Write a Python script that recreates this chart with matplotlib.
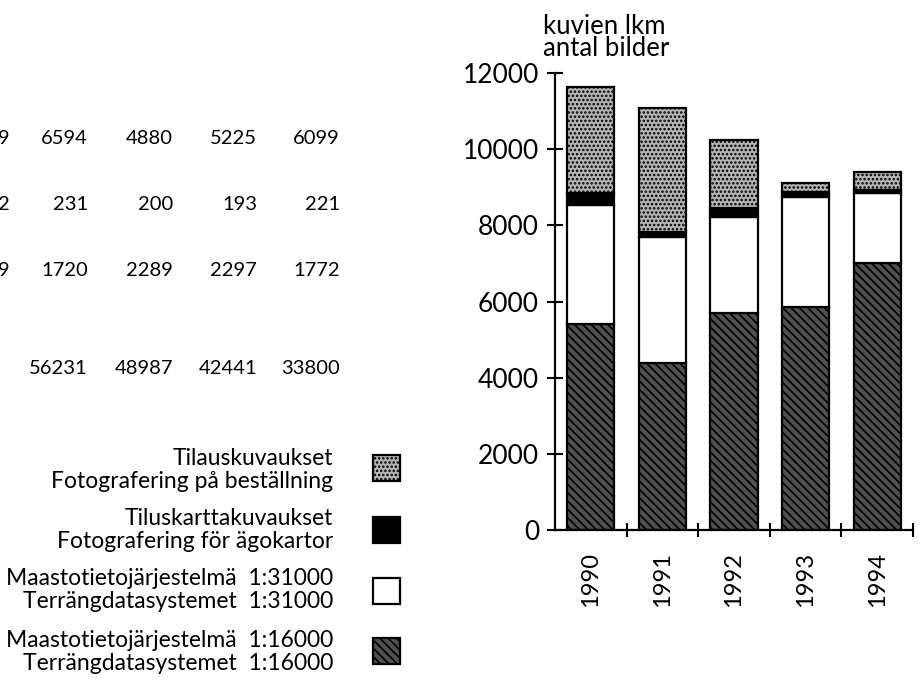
import matplotlib
matplotlib.use("Agg")
import matplotlib.pyplot as plt
from matplotlib.patches import Rectangle
import numpy as np

plt.rcParams['font.family'] = ['Lato', 'DejaVu Sans']
plt.rcParams['hatch.linewidth'] = 1.2

# ---- data ----
years = ['1990', '1991', '1992', '1993', '1994']
maasto_16000 = [5420, 4380, 5710, 5850, 7020]
maasto_31000 = [3110, 3320, 2500, 2900, 1820]
tiluskartta = [310, 130, 255, 130, 90]
tilaus = [2790, 3255, 1780, 240, 480]

y_ticks = [0, 2000, 4000, 6000, 8000, 10000, 12000]

table_rows = [
    ['9', '6594', '4880', '5225', '6099'],
    ['2', '231', '200', '193', '221'],
    ['9', '1720', '2289', '2297', '1772'],
    ['', '56231', '48987', '42441', '33800'],
]

legend_labels = [
    'Tilauskuvaukset\nFotografering på beställning',
    'Tiluskarttakuvaukset\nFotografering för ägokartor',
    'Maastotietojärjestelmä  1:31000\nTerrängdatasystemet  1:31000',
    'Maastotietojärjestelmä  1:16000\nTerrängdatasystemet  1:16000',
]

W, H = 923, 685
fig = plt.figure(figsize=(W / 100, H / 100), dpi=100)

def fx(px):
    return px / W

def fy(py):
    return 1 - py / H

ax = fig.add_axes([fx(555), fy(530), fx(913) - fx(555), fy(73) - fy(530)])

styles = [
    dict(facecolor='#505050', hatch='\\\\\\\\', edgecolor='black'),   # 1:16000
    dict(facecolor='white', hatch=None, edgecolor='black'),           # 1:31000
    dict(facecolor='black', hatch=None, edgecolor='black'),           # tiluskartta
    dict(facecolor='#b4b4b4', hatch='....', edgecolor='black'),       # tilaus
]
series = [maasto_16000, maasto_31000, tiluskartta, tilaus]

x = np.arange(len(years))
bottom = np.zeros(len(years))
for vals, st in zip(series, styles):
    ax.bar(x, vals, bottom=bottom, width=0.66, linewidth=1.6, **st)
    bottom += np.array(vals)

ax.set_xlim(-0.5, len(years) - 0.5)
ax.set_ylim(0, 12000)
ax.spines['top'].set_visible(False)
ax.spines['right'].set_visible(False)
ax.spines['left'].set_linewidth(1.6)
ax.spines['bottom'].set_linewidth(1.6)

ax.set_yticks(y_ticks)
ax.set_yticklabels([str(v) for v in y_ticks], fontsize=19)
ax.tick_params(axis='y', direction='inout', length=11, width=1.5, pad=6)

ax.set_xticks(x)
ax.set_xticklabels(years, rotation=90, fontsize=17)
ax.tick_params(axis='x', which='major', length=0, pad=16)
ax.set_xticks(np.arange(len(years)) + 0.5, minor=True)
ax.tick_params(axis='x', which='minor', direction='inout', length=10, width=1.5)

fig.text(fx(543), fy(14), 'kuvien lkm\nantal bilder', fontsize=18.5,
         ha='left', va='top', linespacing=0.85)

# ---- table text ----
col_right = [10, 88, 173, 257, 340]
row_y = [139, 205, 270, 369]
for r, row in enumerate(table_rows):
    for c, txt in enumerate(row):
        fig.text(fx(col_right[c]), fy(row_y[r]), txt, fontsize=14.5,
                 ha='right', va='center')

# ---- legend ----
leg_text_y = [470, 530, 590, 652]
leg_box_y = [455, 517, 578, 638]
leg_styles = [styles[3], styles[2], styles[1], styles[0]]
for lab, ty, by, st in zip(legend_labels, leg_text_y, leg_box_y, leg_styles):
    fig.text(fx(333), fy(ty), lab, fontsize=16.5, ha='right', va='center',
             multialignment='right', linespacing=1.15)
    rect = Rectangle((fx(373), fy(by + 26)), fx(400) - fx(373), fy(by) - fy(by + 26),
                     transform=fig.transFigure, linewidth=1.6, **st)
    fig.add_artist(rect)

fig.savefig('out.png', dpi=100)
